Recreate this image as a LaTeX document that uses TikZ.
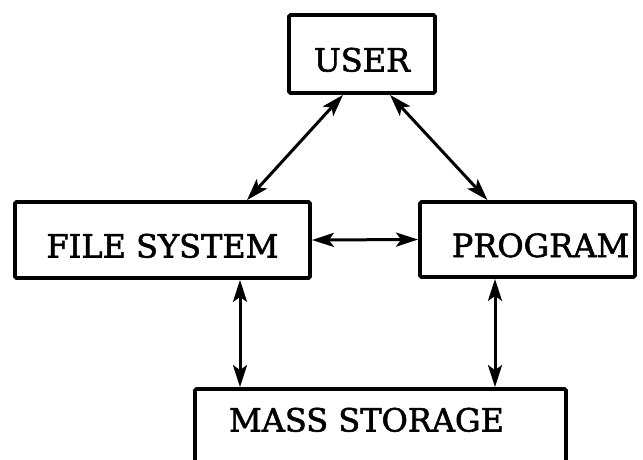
\documentclass[tikz,border=0pt]{standalone}
\usepackage{fontspec}
\setmainfont{DejaVu Serif}[FakeBold=1.8]
\usetikzlibrary{arrows.meta,calc}
\begin{document}
\begin{tikzpicture}[x=1pt,y=-1pt,
  box/.style={draw,line width=3.8pt,rounded corners=1.5pt,inner sep=0pt,
    font=\fontsize{32}{36}\selectfont,text height=35pt,text depth=0pt},
  link/.style={line width=3pt,
    {Stealth[length=22pt,width=14pt,inset=5pt]}-{Stealth[length=22pt,width=14pt,inset=5pt]}}]
  \useasboundingbox (0,0) rectangle (643,459);
  \clip (0,0) rectangle (643,459);
  \node[box,minimum width=146pt,minimum height=78pt] (user) at (362,54) {USER};
  \node[box,minimum width=295pt,minimum height=76pt] (fs) at (162.5,240) {FILE SYSTEM};
  \node[box,minimum width=215pt,minimum height=75pt] (prog) at (527.5,239.5) {\hspace*{26pt}PROGRAM};
  \node[box,minimum width=371pt,minimum height=84pt,text height=22pt,text depth=21pt] (mass) at (380.5,431) {MASS STORAGE\hspace*{28pt}};
  \draw[link] ([xshift=-19pt]user.south) -- ([xshift=84.5pt]fs.north);
  \draw[link] ([xshift=28pt]user.south) -- ([xshift=-40pt]prog.north);
  \draw[link] (fs.east) -- (prog.west);
  \draw[link] ([xshift=77.5pt]fs.south) -- ([xshift=77.5pt]fs.south |- mass.north);
  \draw[link] ([xshift=-32.5pt]prog.south) -- ([xshift=-32.5pt]prog.south |- mass.north);
\end{tikzpicture}
\end{document}
